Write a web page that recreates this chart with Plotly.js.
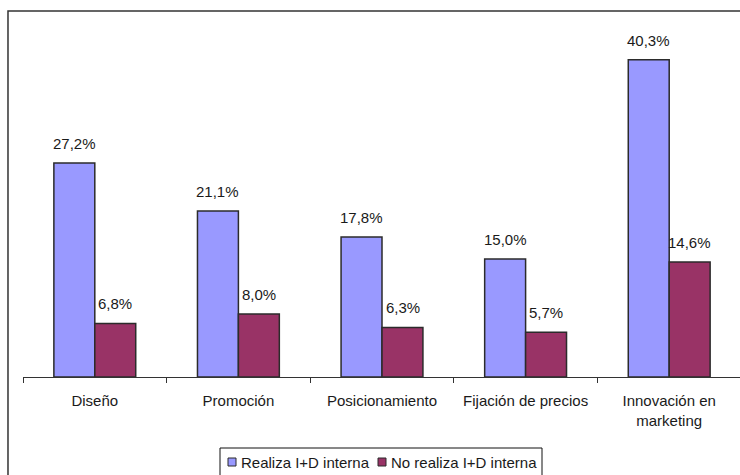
<!DOCTYPE html>
<html>
<head>
<meta charset="utf-8">
<script src="https://cdn.plot.ly/plotly-3.0.1.min.js"></script>
<style>
  html, body { margin: 0; padding: 0; overflow: hidden; background: #fff; }
  #chart { width: 760px; height: 480px; }
</style>
</head>
<body>
<div id="chart"></div>
<script>
// Categories (axis tick labels) and the two series, in percent
const categories = ["Diseño", "Promoción", "Posicionamiento", "Fijación de precios", "Innovación en<br>marketing"];
const realizaID = [27.2, 21.1, 17.8, 15.0, 40.3];
const noRealizaID = [6.8, 8.0, 6.3, 5.7, 14.6];
const seriesNames = ["Realiza I+D interna", "No realiza I+D interna"];
const seriesColors = ["#9999FF", "#993366"];

const FONT = "Liberation Sans, Arial, sans-serif";
const TEXT_COLOR = "#1a1a1a";
const EDGE = "#2b2b2b";
const fmt = v => v.toFixed(1).replace(".", ",") + "%";

const W = 760, H = 480;
const M = { l: 23, r: 19, t: 20, b: 103 };
const plotW = W - M.l - M.r, plotH = H - M.t - M.b;
// pixel position (relative to the page) -> paper coordinates
const px = x => (x - M.l) / plotW;
const py = y => (H - M.b - y) / plotH;

const traces = [realizaID, noRealizaID].map((vals, s) => ({
  type: "bar", name: seriesNames[s], x: categories, y: vals,
  marker: { color: seriesColors[s], line: { color: EDGE, width: 1.5 } },
  hoverinfo: "none", showlegend: false
}));

// Value labels above each bar, offset to the bar's slot within its group
const annotations = [];
[realizaID, noRealizaID].forEach((vals, s) => {
  vals.forEach((v, i) => {
    annotations.push({
      x: categories[i], y: v, xref: "x", yref: "y",
      xshift: s === 0 ? -20.5 : 20.5, yshift: 9,
      yanchor: "bottom", showarrow: false,
      text: fmt(v), font: { family: FONT, size: 15, color: TEXT_COLOR }
    });
  });
});

// Compact boxed legend under the axis
const legendBox = { x0: 220, x1: 542, y0: 448, y1: 490 };
const legendItems = [{ sq: 228, tx: 239 }, { sq: 378, tx: 389 }];
const shapes = [
  {
    type: "rect", xref: "paper", yref: "paper",
    x0: -0.0209, x1: 1.05, y0: -0.35, y1: 1.025,
    line: { color: "#333", width: 1.5 }, fillcolor: "rgba(0,0,0,0)", layer: "below"
  },
  {
    type: "rect", xref: "paper", yref: "paper",
    x0: px(legendBox.x0), x1: px(legendBox.x1), y0: py(legendBox.y1), y1: py(legendBox.y0),
    line: { color: "#111", width: 1 }, fillcolor: "#fff", layer: "below"
  }
];
legendItems.forEach((it, s) => {
  shapes.push({
    type: "rect", xref: "paper", yref: "paper",
    x0: px(it.sq), x1: px(it.sq + 8), y0: py(466), y1: py(458),
    line: { color: EDGE, width: 1 }, fillcolor: seriesColors[s]
  });
  annotations.push({
    xref: "paper", yref: "paper", x: px(it.tx), y: py(462),
    xanchor: "left", yanchor: "middle", showarrow: false,
    text: seriesNames[s], font: { family: FONT, size: 15, color: TEXT_COLOR }
  });
});

const layout = {
  width: W, height: H,
  margin: { l: M.l, r: M.r, t: M.t, b: M.b, autoexpand: false },
  paper_bgcolor: "#fff", plot_bgcolor: "#fff",
  barmode: "group", bargap: 0.43, bargroupgap: 0,
  showlegend: false,
  xaxis: {
    type: "category", showgrid: false, zeroline: false, automargin: false,
    showline: true, linecolor: "#333", linewidth: 1,
    ticks: "outside", tickson: "boundaries", ticklen: 5, tickcolor: "#333",
    ticklabelstandoff: 10,
    tickfont: { family: FONT, size: 15, color: TEXT_COLOR }
  },
  yaxis: {
    range: [0, 45.36], visible: false, showgrid: false, zeroline: false, automargin: false
  },
  annotations: annotations,
  shapes: shapes
};

Plotly.newPlot("chart", traces, layout, { displayModeBar: false, staticPlot: true });
</script>
</body>
</html>
